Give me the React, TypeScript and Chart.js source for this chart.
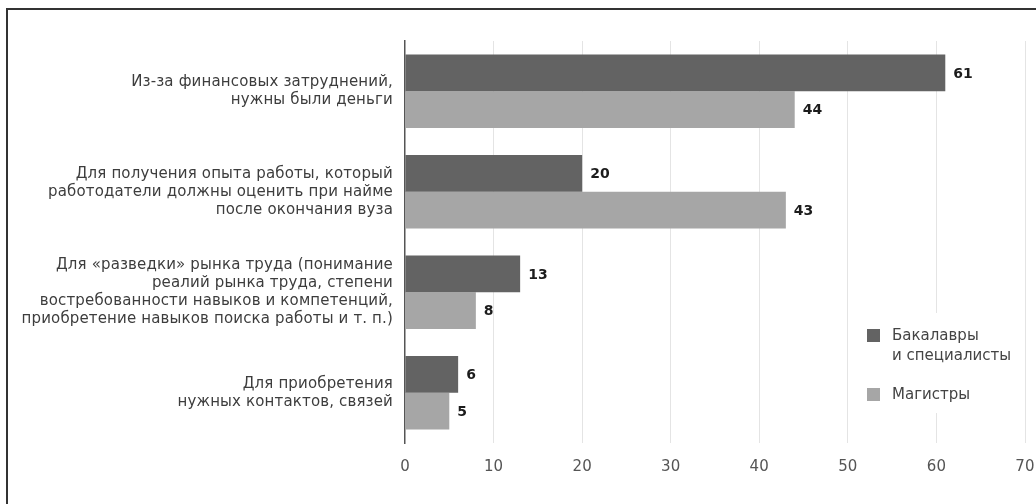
import React, { useEffect, useRef } from "react";
import { Chart, registerables } from "chart.js";

Chart.register(...registerables);

const categories: string[][] = [
  ["Из-за финансовых затруднений,", "нужны были деньги"],
  ["Для получения опыта работы, который", "работодатели должны оценить при найме", "после окончания вуза"],
  [
    "Для «разведки» рынка труда (понимание",
    "реалий рынка труда, степени",
    "востребованности навыков и компетенций,",
    "приобретение навыков поиска работы и т. п.)",
  ],
  ["Для приобретения", "нужных контактов, связей"],
];
const bachelors = [61, 20, 13, 6];
const masters = [44, 43, 8, 5];
const seriesNames: string[][] = [["Бакалавры", "и специалисты"], ["Магистры"]];
const seriesColors = ["#636363", "#a6a6a6"];
const xMin = 0;
const xMax = 70;
const xStep = 10;

const FONT = "'DejaVu Sans', sans-serif";

const spacing = {
  id: "spacing",
  beforeDraw(chart: any) {
    chart.ctx.letterSpacing = "0.15px";
  },
};

const valueLabels = {
  id: "valueLabels",
  afterDatasetsDraw(chart: any) {
    const ctx = chart.ctx;
    ctx.save();
    ctx.letterSpacing = "0px";
    ctx.font = `bold 14px ${FONT}`;
    ctx.fillStyle = "#1c1c1c";
    ctx.textAlign = "left";
    ctx.textBaseline = "middle";
    chart.data.datasets.forEach((ds: any, di: number) => {
      const meta = chart.getDatasetMeta(di);
      meta.data.forEach((bar: any, i: number) => {
        ctx.fillText(String(ds.data[i]), bar.x + 8, bar.y + 1);
      });
    });
    ctx.restore();
  },
};

const boxLegend = {
  id: "boxLegend",
  afterDraw(chart: any) {
    const ctx = chart.ctx;
    ctx.save();
    ctx.letterSpacing = "0px";
    ctx.fillStyle = "#ffffff";
    ctx.fillRect(852, 313, 168, 100);
    ctx.font = `15px ${FONT}`;
    ctx.textAlign = "left";
    ctx.textBaseline = "middle";
    const tops = [329, 388];
    seriesNames.forEach((lines, i) => {
      ctx.fillStyle = seriesColors[i];
      ctx.fillRect(867, tops[i], 13, 13);
      ctx.fillStyle = "#444444";
      lines.forEach((ln, j) => {
        ctx.fillText(ln, 892, tops[i] + 7 + j * 20);
      });
    });
    ctx.restore();
  },
};

function App() {
  const ref = useRef<HTMLCanvasElement | null>(null);
  useEffect(() => {
    if (!ref.current) return;
    const chart = new Chart(ref.current, {
      type: "bar",
      data: {
        labels: categories,
        datasets: [
          {
            label: seriesNames[0].join(" "),
            data: bachelors,
            backgroundColor: seriesColors[0],
            categoryPercentage: 0.73,
            barPercentage: 1,
          },
          {
            label: seriesNames[1].join(" "),
            data: masters,
            backgroundColor: seriesColors[1],
            categoryPercentage: 0.73,
            barPercentage: 1,
          },
        ],
      },
      options: {
        indexAxis: "y",
        animation: false,
        responsive: true,
        maintainAspectRatio: false,
        layout: { padding: { left: 0, top: 41, right: 75, bottom: 0 } },
        plugins: { legend: { display: false }, tooltip: { enabled: false } },
        scales: {
          x: {
            min: xMin,
            max: xMax,
            afterFit: (s: any) => {
              s.height = 61;
            },
            ticks: {
              stepSize: xStep,
              padding: 15,
              color: "#555555",
              font: { family: FONT, size: 15 },
            },
            grid: {
              drawTicks: false,
              color: (c: any) => (c.index === 0 ? "rgba(0,0,0,0)" : "#e4e4e4"),
              lineWidth: 1,
            },
            border: { display: false },
          },
          y: {
            afterFit: (s: any) => {
              s.width = 405;
            },
            ticks: {
              padding: 12,
              color: "#3d3d3d",
              font: { family: FONT, size: 15, lineHeight: 1.2 },
            },
            grid: { display: false, drawTicks: false },
            border: { display: true, color: "#555555", width: 1.5 },
          },
        },
      },
      plugins: [spacing, valueLabels, boxLegend],
    });
    return () => chart.destroy();
  }, []);

  return (
    <div
      style={{
        position: "fixed",
        left: 0,
        top: 0,
        width: 1036,
        height: 504,
        overflow: "hidden",
        background: "#ffffff",
      }}
    >
      <div
        style={{
          position: "absolute",
          left: 6,
          top: 8,
          width: 2000,
          height: 2000,
          borderTop: "2px solid #333",
          borderLeft: "2px solid #333",
        }}
      />
      <div style={{ position: "absolute", left: 0, top: 0, width: 1100, height: 504 }}>
        <canvas ref={ref} />
      </div>
    </div>
  );
}

export default App;
